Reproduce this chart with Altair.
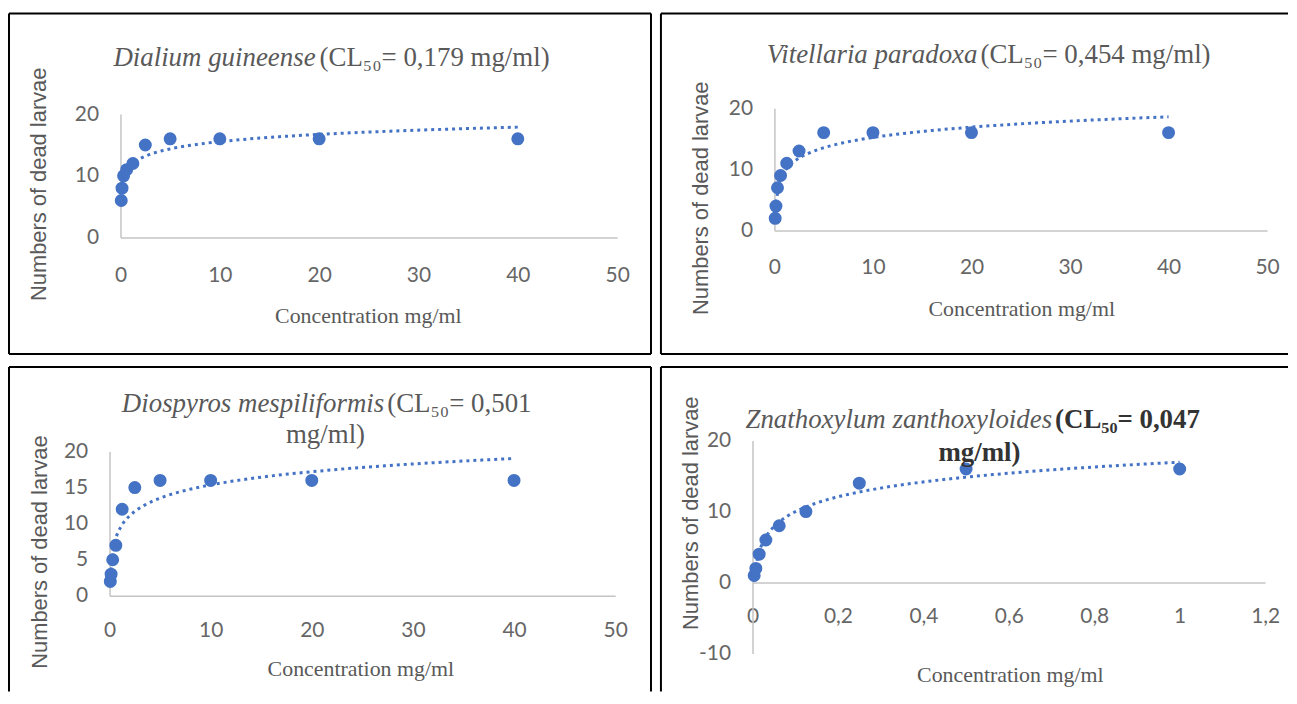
import altair as alt
import pandas as pd

# ---------------- data ----------------
conc_serial = [0.078, 0.156, 0.3125, 0.625, 1.25, 2.5, 5, 10, 20, 40]
dead_dialium = [6, 8, 10, 11, 12, 15, 16, 16, 16, 16]
dead_vitellaria = [2, 4, 7, 9, 11, 13, 16, 16, 16, 16]
dead_diospyros = [2, 3, 5, 7, 12, 15, 16, 16, 16, 16]
conc_zanth = [0.0039, 0.0078, 0.0156, 0.03125, 0.0625, 0.125, 0.25, 0.5, 1]
dead_zanth = [1, 2, 4, 6, 8, 10, 14, 16, 16]

species = ["Dialium guineense", "Vitellaria paradoxa",
           "Diospyros mespiliformis", "Znathoxylum zanthoxyloides"]
cl50_text = ["(CL₅₀= 0,179 mg/ml)", "(CL₅₀= 0,454 mg/ml)",
             "(CL₅₀= 0,501", "(CL₅₀= 0,047"]
title_line2 = ["", "", "mg/ml)", "mg/ml)"]

x_ticks_main = [0, 10, 20, 30, 40, 50]
x_ticks_zanth = [0, 0.2, 0.4, 0.6, 0.8, 1, 1.2]
y_ticks_20 = [0, 10, 20]
y_ticks_5 = [0, 5, 10, 15, 20]
y_ticks_zanth = [-10, 0, 10, 20]

x_title = "Concentration mg/ml"
y_title = "Numbers of dead larvae"

# ---------------- style ----------------
BLUE = "#4472C4"
GRAY = "#595959"
TICK_GRAY = "#666666"
AXIS = "#C4C4C4"
SERIF = "Liberation Serif"
NUM_FONT = "Lato"
YT_FONT = "Liberation Sans"

one = pd.DataFrame({"k": [0]})


def border(l, t, r, b, sides):
    out = []
    segs = {
        "top": (l, r, t, t),
        "bottom": (l, r, b, b),
        "left": (l, l, t, b),
        "right": (r, r, t, b),
    }
    for s in sides:
        x1, x2, y1, y2 = segs[s]
        out.append(
            alt.Chart(one).mark_rule(color="black", strokeWidth=2).encode(
                x=alt.value(x1), x2=alt.value(x2), y=alt.value(y1), y2=alt.value(y2)
            )
        )
    return out


def label_text(txt, x, y, align, style="normal", weight="normal", color=GRAY):
    return alt.Chart(one).mark_text(
        align=align, baseline="alphabetic", font=SERIF, fontSize=27,
        fontStyle=style, fontWeight=weight, color=color,
    ).encode(x=alt.value(x), y=alt.value(y), text=alt.value(txt))


def panel(conc, dead, xdom, xticks, ydom, yticks, W, H, xr, yr, box, sides,
          titles, ytitle_pos, xtitle_pos, xlabpad, xoffset=0, yoffset=0, xlabexpr=None):
    df = pd.DataFrame({"conc": conc, "dead": dead})
    xkw = dict(values=xticks, title=x_title, grid=False, ticks=False, tickSize=0,
               domainColor=AXIS, domainWidth=1.5, labelFont=NUM_FONT, labelFontSize=21,
               labelColor=TICK_GRAY, labelPadding=xlabpad, labelBaseline="middle",
               labelFlush=False, labelOverlap=False, titleFont=SERIF, titleFontSize=22,
               titleFontWeight="normal", titleColor=GRAY, titleX=xtitle_pos[0],
               titleY=xtitle_pos[1], titleBaseline="middle", titleAlign="center")
    if xoffset:
        xkw["offset"] = xoffset
    if xlabexpr:
        xkw["labelExpr"] = xlabexpr
    ykw = dict(values=yticks, title=y_title, grid=False, ticks=False, tickSize=0,
               domainColor=AXIS, domainWidth=1.5, labelFont=NUM_FONT, labelFontSize=21,
               labelColor=TICK_GRAY, labelPadding=22, labelOverlap=False, labelFlush=False,
               labelExpr="'' + datum.value",
               titleFont=YT_FONT, titleFontSize=22, titleFontWeight="normal",
               titleColor=GRAY, titleAngle=270, titleX=ytitle_pos[0], titleY=ytitle_pos[1],
               titleBaseline="middle", titleAlign="center")
    if yoffset:
        ykw["offset"] = yoffset
    X = alt.X("conc:Q", scale=alt.Scale(domain=xdom, range=xr, nice=False, zero=False),
              axis=alt.Axis(**xkw))
    Y = alt.Y("dead:Q", scale=alt.Scale(domain=ydom, range=yr, nice=False, zero=False),
              axis=alt.Axis(**ykw))

    trend = alt.Chart(df).transform_regression(
        "conc", "dead", method="log"
    ).mark_line(color=BLUE, strokeWidth=3, strokeDash=[3, 4]).encode(x=X, y=Y)
    pts = alt.Chart(df).mark_circle(size=170, color=BLUE, opacity=1).encode(x=X, y=Y)

    layers = border(*box, sides) + [trend, pts] + titles
    return alt.layer(*layers).properties(width=W, height=H)


p1 = panel(conc_serial, dead_dialium, [0, 50], x_ticks_main, [0, 20], y_ticks_20,
           510, 130, [11, 510], [130, 6], (-101, -95, 544, 247),
           ["top", "bottom", "left", "right"],
           [label_text(species[0], 207, -42, "right", style="italic"),
            label_text(cl50_text[0], 211, -42, "left")],
           (-82, 76), (259.5, 78), 38, yoffset=-11)

p2 = panel(conc_serial, dead_vitellaria, [0, 50], x_ticks_main, [0, 20], y_ticks_20,
           495, 123, [0, 495], [123, 0], (-114, -95, 516, 247),
           ["top", "bottom", "left"],
           [label_text(species[1], 204, -45, "right", style="italic"),
            label_text(cl50_text[1], 207, -45, "left")],
           (-74, 90), (248, 78), 37)

p3 = panel(conc_serial, dead_diospyros, [0, 50], x_ticks_main, [0, 20], y_ticks_5,
           508, 156, [0, 508], [156, 11], (-101, -74, 544, 252),
           ["top", "left", "right"],
           [label_text(species[2], 276, -29, "right", style="italic"),
            label_text(cl50_text[2], 279, -29, "left"),
            label_text(title_line2[2], 217, 2, "center")],
           (-70, 111.5), (252, 73), 35)

p4 = panel(conc_zanth, dead_zanth, [0, 1.2], x_ticks_zanth, [-10, 20], y_ticks_zanth,
           515, 214, [0, 515], [214, 0], (-92, -74, 538, 252),
           ["top", "left"],
           [label_text(species[3], 301, -13, "right", style="italic"),
            label_text(cl50_text[3], 304, -13, "left", weight="bold", color="#333333"),
            label_text(title_line2[3], 228, 21, "center", weight="bold", color="#333333")],
           (-62.5, 72.5), (258.5, 92), 34, xoffset=-71.3,
           xlabexpr="replace(format(datum.value, '.1~f'), '.', ',')")

chart = alt.vconcat(
    alt.hconcat(p1, p2, spacing=8),
    alt.hconcat(p3, p4, spacing=8),
    spacing=11,
).properties(
    padding={"left": 0, "top": 3, "right": 0, "bottom": 0},
    background="white",
).configure_view(stroke="transparent", strokeWidth=0)

chart.save("out.html", embed_options={"renderer": "svg", "actions": False})
